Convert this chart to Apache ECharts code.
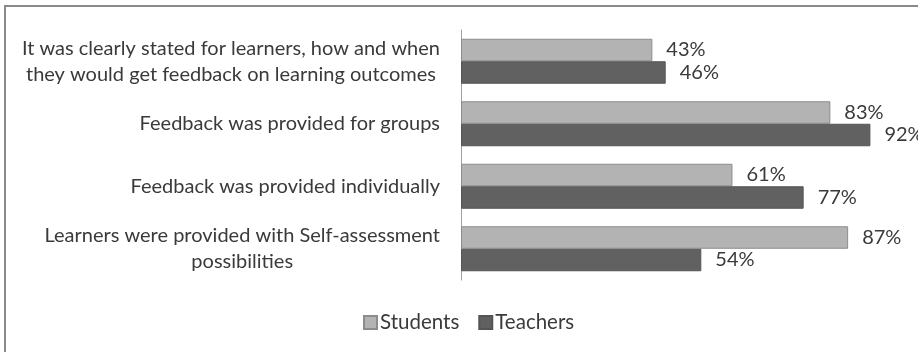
<!DOCTYPE html>
<html>
<head>
<meta charset="utf-8">
<script src="https://cdn.jsdelivr.net/npm/echarts@6/dist/echarts.min.js"></script>
<style>
  html, body { margin: 0; padding: 0; background: #fff; }
  #chart { width: 918px; height: 352px; }
</style>
</head>
<body>
<div id="chart"></div>
<script>
// Survey statements (top to bottom) and the share answering yes, in percent
const categories = [
  'It was clearly stated for learners, how and when\nthey would get feedback on learning outcomes',
  'Feedback was provided for groups',
  'Feedback was provided individually',
  'Learners were provided with Self-assessment\npossibilities'
];
const students = [43, 83, 61, 87];
const teachers = [46, 92, 77, 54];
const seriesNames = ['Students', 'Teachers'];

const FONT = 'Lato';
const TEXT = '#3a3a3a';

const chart = echarts.init(document.getElementById('chart'), null, { renderer: 'canvas' });

// Centre each line of a multi-line category label within its own block
function centredLines(value) {
  return value.split('\n').map(l => '{c|' + l + '}').join('\n');
}

chart.setOption({
  animation: false,
  backgroundColor: '#ffffff',
  textStyle: { fontFamily: FONT },
  graphic: [{
    type: 'rect',
    shape: { x: 5, y: 6, width: 1000, height: 1000 },
    style: { fill: 'none', stroke: '#8a8a8a', lineWidth: 2 },
    silent: true
  }],
  grid: { left: 461, right: 12, top: 30, bottom: 72 },
  legend: {
    data: seriesNames,
    bottom: 14,
    left: 358,
    icon: 'rect',
    itemWidth: 13,
    itemHeight: 13,
    itemGap: 19,
    textStyle: { fontFamily: FONT, fontSize: 20.5, color: TEXT, padding: [0, 0, 0, -2] }
  },
  xAxis: {
    type: 'value',
    min: 0,
    max: 100,
    show: false
  },
  yAxis: {
    type: 'category',
    data: categories,
    inverse: true,
    axisLine: { show: true, lineStyle: { color: '#a0a0a0', width: 1 } },
    axisTick: { show: false },
    axisLabel: {
      margin: 21,
      fontFamily: FONT,
      fontSize: 20,
      color: TEXT,
      lineHeight: 26,
      formatter: centredLines,
      rich: { c: { align: 'center', fontFamily: FONT, fontSize: 20, color: TEXT, lineHeight: 26 } }
    }
  },
  series: [
    {
      name: seriesNames[0],
      type: 'bar',
      data: students,
      barGap: '0%',
      barCategoryGap: '28%',
      itemStyle: { color: '#b3b3b3', borderColor: '#8c8c8c', borderWidth: 1 },
      label: {
        show: true, position: 'right', distance: 14,
        formatter: '{c}%', fontFamily: FONT, fontSize: 20, color: TEXT
      }
    },
    {
      name: seriesNames[1],
      type: 'bar',
      data: teachers,
      barGap: '0%',
      barCategoryGap: '28%',
      itemStyle: { color: '#616161', borderColor: '#555555', borderWidth: 1 },
      label: {
        show: true, position: 'right', distance: 14,
        formatter: '{c}%', fontFamily: FONT, fontSize: 20, color: TEXT
      }
    }
  ]
});
</script>
</body>
</html>
